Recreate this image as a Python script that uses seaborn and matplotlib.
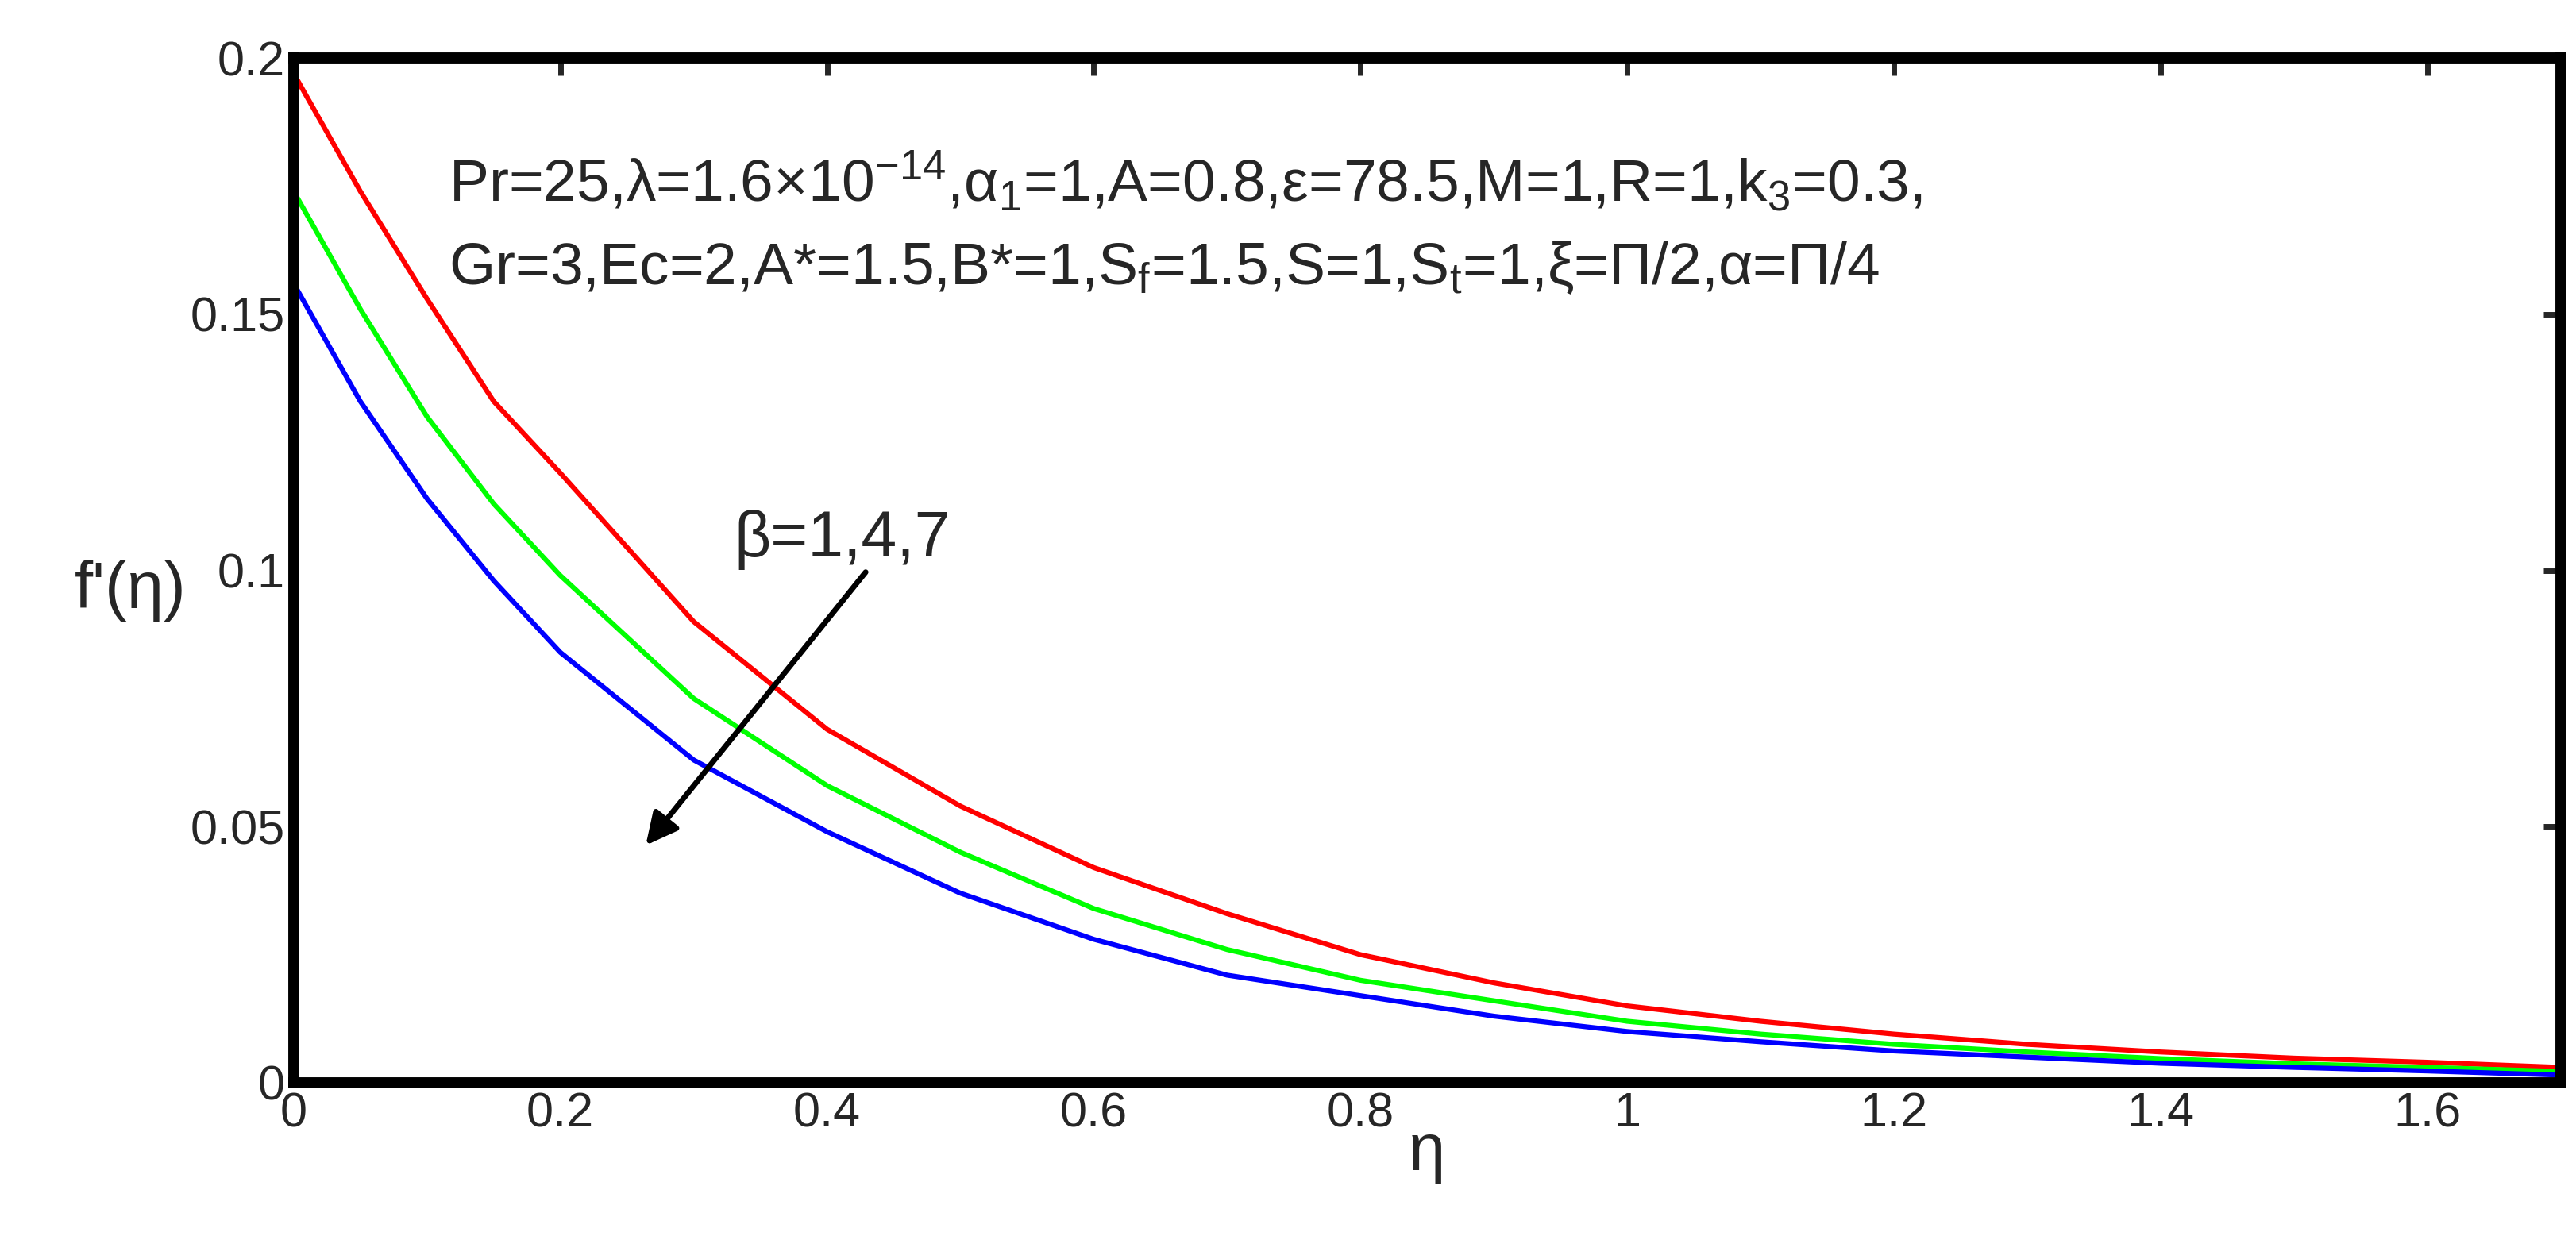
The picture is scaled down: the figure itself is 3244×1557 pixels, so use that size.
import matplotlib
matplotlib.use("Agg")
import matplotlib.pyplot as plt
import seaborn as sns
import pandas as pd

eta = [0, 0.05, 0.1, 0.15, 0.2, 0.3, 0.4, 0.5, 0.6, 0.7, 0.8, 0.9, 1.0, 1.1, 1.2, 1.3, 1.4, 1.5, 1.6, 1.7]
f_beta1 = [0.197, 0.174, 0.153, 0.133, 0.119, 0.090, 0.069, 0.054, 0.042, 0.033, 0.025, 0.0195, 0.015, 0.012, 0.0095, 0.0075, 0.006, 0.0048, 0.004, 0.003]
f_beta4 = [0.174, 0.151, 0.130, 0.113, 0.099, 0.075, 0.058, 0.045, 0.034, 0.026, 0.020, 0.016, 0.012, 0.0095, 0.0075, 0.006, 0.0047, 0.0037, 0.003, 0.0022]
f_beta7 = [0.156, 0.133, 0.114, 0.098, 0.084, 0.063, 0.049, 0.037, 0.028, 0.021, 0.017, 0.013, 0.010, 0.008, 0.0062, 0.005, 0.0038, 0.003, 0.0023, 0.0015]
betas = ["1", "4", "7"]
colors = ["#ff0000", "#00ff00", "#0000ff"]

rows = []
for b, ys in zip(betas, [f_beta1, f_beta4, f_beta7]):
    for x, y in zip(eta, ys):
        rows.append({"eta": x, "f": y, "beta": b})
df = pd.DataFrame(rows)

sns.set_style("white")
plt.rcParams['font.family'] = ['Liberation Sans', 'DejaVu Sans']
plt.rcParams['mathtext.fontset'] = 'custom'
plt.rcParams['mathtext.rm'] = 'Liberation Sans'
plt.rcParams['mathtext.it'] = 'Liberation Sans'

fig = plt.figure(figsize=(32.44, 15.57), dpi=100)
ax = fig.add_axes([0.114, 0.124, 0.880, 0.829])
sns.lineplot(data=df, x="eta", y="f", hue="beta", palette=colors, linewidth=4.5, legend=False, ax=ax)
ax.set_xlim(0, 1.7)
ax.set_ylim(0, 0.2)
ax.set_xticks([0, 0.2, 0.4, 0.6, 0.8, 1, 1.2, 1.4, 1.6])
ax.set_xticklabels(["0", "0.2", "0.4", "0.6", "0.8", "1", "1.2", "1.4", "1.6"])
ax.set_yticks([0, 0.05, 0.1, 0.15, 0.2])
ax.set_yticklabels(["0", "0.05", "0.1", "0.15", "0.2"])
ax.tick_params(direction="in", length=16, width=5, labelsize=44, top=True, right=True, pad=8)
for s in ax.spines.values():
    s.set_linewidth(10)
    s.set_color("black")
ax.set_xlabel("η", fontsize=60, labelpad=-14)
ax.set_ylabel("f'(η)", fontsize=60, rotation=0)
ax.yaxis.set_label_coords(-0.072, 0.45)

ax.text(0.116, 0.176, r"Pr=25,λ=1.6×10$^{-14}$,α$_1$=1,A=0.8,ε=78.5,M=1,R=1,k$_3$=0.3,", fontsize=54, va="center")
ax.text(0.116, 0.159, r"Gr=3,Ec=2,A*=1.5,B*=1,S$_f$=1.5,S=1,S$_t$=1,ξ=Π/2,α=Π/4", fontsize=54, va="center")
ax.text(0.33, 0.106, "β=1,4,7", fontsize=58, va="center")
ax.annotate("", xy=(0.263, 0.046), xytext=(0.43, 0.1),
            arrowprops=dict(arrowstyle="-|>", color="black", lw=5, mutation_scale=60))
fig.savefig("out.png", dpi=100)
